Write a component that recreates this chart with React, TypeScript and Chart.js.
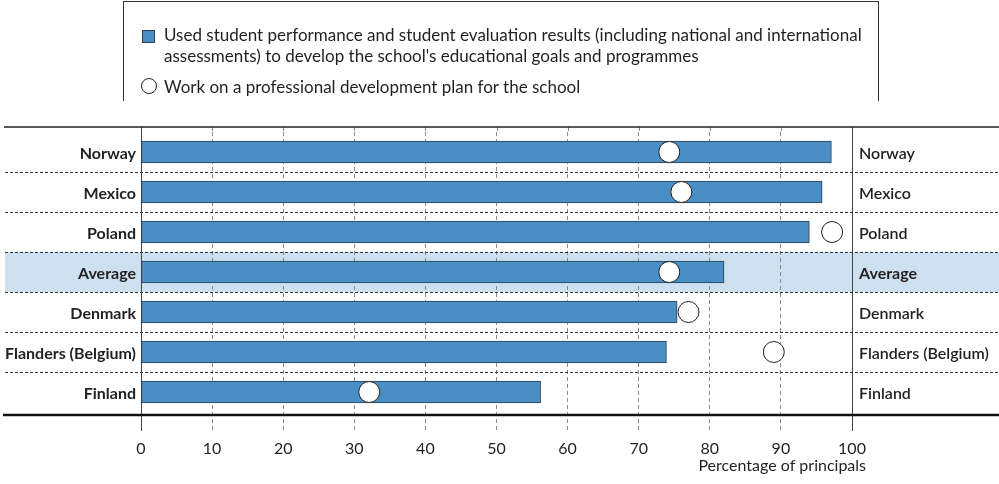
import React, { useEffect, useRef } from 'react';
import { Chart, registerables } from 'chart.js';

Chart.register(...registerables);

const categories = ['Norway', 'Mexico', 'Poland', 'Average', 'Denmark', 'Flanders (Belgium)', 'Finland'];
const usedResults = [97.1, 95.8, 94.0, 82.0, 75.4, 73.9, 56.2];
const devPlan = [74.3, 76.0, 97.2, 74.3, 77.0, 89.0, 32.1];
const highlight = 'Average';
const xMin = 0;
const xMax = 100;
const xStep = 10;
const legendBarLines = [
  'Used student performance and student evaluation results (including national and international',
  "assessments) to develop the school's educational goals and programmes",
];
const legendCircle = 'Work on a professional development plan for the school';
const axisTitle = 'Percentage of principals';

const BAR_FILL = '#4a8fc4';
const BAR_BORDER = '#2c3e50';
const BAND = '#cde0ef';
const TEXT = '#231f20';
const FONT = "Lato, 'Open Sans', sans-serif";

const decor = {
  id: 'decor',
  beforeDraw(chart: any) {
    const { ctx, scales } = chart;
    const y = scales.y;
    const step = y.getPixelForValue(1) - y.getPixelForValue(0);
    const idx = categories.indexOf(highlight);
    const yc = y.getPixelForValue(idx);
    ctx.save();
    ctx.fillStyle = BAND;
    ctx.fillRect(5, yc - step / 2, chart.width - 5, step);
    ctx.restore();
  },
  beforeDatasetsDraw(chart: any) {
    const { ctx, scales, chartArea } = chart;
    const y = scales.y;
    const x = scales.x;
    const step = y.getPixelForValue(1) - y.getPixelForValue(0);
    ctx.save();
    ctx.strokeStyle = '#333';
    ctx.lineWidth = 1;
    ctx.setLineDash([3, 2]);
    for (let i = 1; i < categories.length; i++) {
      const yy = Math.round(y.getPixelForValue(i) - step / 2) + 0.5;
      ctx.beginPath();
      ctx.moveTo(5, yy);
      ctx.lineTo(chart.width, yy);
      ctx.stroke();
    }
    const topRule = chartArea.top - 5;
    for (let v = xMin; v <= xMax; v += xStep) {
      const px = Math.round(x.getPixelForValue(v)) + 0.5;
      const solid = v === xMin || v === xMax;
      ctx.strokeStyle = solid ? '#444' : '#8a8a8a';
      ctx.setLineDash(solid ? [] : [4, 3]);
      ctx.beginPath();
      ctx.moveTo(px, topRule);
      ctx.lineTo(px, chartArea.top);
      ctx.stroke();
    }
    ctx.restore();
  },
  afterDraw(chart: any) {
    const { ctx, chartArea, scales } = chart;
    ctx.save();
    ctx.setLineDash([]);
    ctx.strokeStyle = '#222';
    ctx.lineWidth = 1.5;
    ctx.beginPath();
    ctx.moveTo(4, chartArea.top - 5);
    ctx.lineTo(chart.width, chartArea.top - 5);
    ctx.stroke();
    ctx.strokeStyle = '#111';
    ctx.lineWidth = 2.5;
    ctx.beginPath();
    ctx.moveTo(3, chartArea.bottom + 3);
    ctx.lineTo(chart.width, chartArea.bottom + 3);
    ctx.stroke();
    ctx.fillStyle = TEXT;
    ctx.font = `16px ${FONT}`;
    ctx.textAlign = 'right';
    ctx.textBaseline = 'alphabetic';
    ctx.fillText(axisTitle, scales.x.getPixelForValue(xMax) + 14, chartArea.bottom + 59);
    ctx.restore();
  },
};

export default function App() {
  const ref = useRef<HTMLCanvasElement>(null);
  useEffect(() => {
    document.body.style.margin = '0';
    const isEdge = (v: number) => v === xMin || v === xMax;
    const chart = new Chart(ref.current!, {
      type: 'bar',
      data: {
        labels: categories,
        datasets: [
          {
            type: 'line',
            label: legendCircle,
            data: devPlan,
            indexAxis: 'y',
            showLine: false,
            pointRadius: 10.5,
            pointHoverRadius: 10.5,
            pointBackgroundColor: '#ffffff',
            pointBorderColor: '#222',
            pointBorderWidth: 1,
            order: 1,
            yAxisID: 'y',
          } as any,
          {
            type: 'bar',
            label: legendBarLines.join(' '),
            data: usedResults,
            backgroundColor: BAR_FILL,
            borderColor: BAR_BORDER,
            borderWidth: 1,
            borderSkipped: false,
            barThickness: 22,
            order: 2,
            yAxisID: 'y',
          },
        ],
      },
      options: {
        indexAxis: 'y',
        responsive: false,
        animation: false,
        layout: { padding: { top: 132, left: 0, right: 0, bottom: 0 } },
        plugins: { legend: { display: false }, tooltip: { enabled: false } },
        scales: {
          x: {
            type: 'linear',
            position: 'bottom',
            min: xMin,
            max: xMax,
            afterFit: (s: any) => { s.height = 72; },
            ticks: {
              stepSize: xStep,
              color: TEXT,
              padding: 8,
              font: { family: FONT, size: 16 },
            },
            grid: {
              color: (c: any) => (isEdge(c.tick?.value) ? '#444' : '#8a8a8a'),
              tickColor: (c: any) => (isEdge(c.tick?.value) ? '#444' : '#8a8a8a'),
              tickBorderDash: (c: any) => (isEdge(c.tick?.value) ? [] : [4, 3]),
              tickLength: 19,
              lineWidth: 1,
            },
            border: {
              display: false,
              dash: (c: any) => (isEdge(c.tick?.value) ? [] : [4, 3]),
            },
          },
          y: {
            type: 'category',
            position: 'left',
            offset: true,
            afterFit: (s: any) => { s.width = 141; },
            grid: { display: false, drawTicks: false },
            border: { display: false },
            ticks: {
              color: TEXT,
              padding: 5,
              labelOffset: 2,
              font: { family: FONT, size: 16, weight: 'bold' },
            },
          },
          y2: {
            type: 'category',
            position: 'right',
            labels: categories,
            offset: true,
            afterFit: (s: any) => { s.width = 147; },
            grid: { display: false, drawTicks: false },
            border: { display: false },
            ticks: {
              color: TEXT,
              padding: 7,
              labelOffset: 2,
              font: (c: any) => ({
                family: FONT,
                size: 16,
                weight: categories[c.index] === highlight ? 'bold' : '600',
              }),
            },
          },
        },
      },
      plugins: [decor],
    });
    return () => chart.destroy();
  }, []);

  return (
    <div style={{ position: 'absolute', left: 0, top: 0, width: 999, height: 484, background: '#fff' }}>
      <canvas ref={ref} width={999} height={484} style={{ display: 'block', position: 'absolute', left: 0, top: 0 }} />
      <div
        style={{
          position: 'absolute',
          left: 123,
          top: 1,
          width: 756,
          height: 100,
          boxSizing: 'border-box',
          borderTop: '1px solid #333',
          borderLeft: '1px solid #333',
          borderRight: '1px solid #333',
          fontFamily: FONT,
          fontSize: 17,
          color: TEXT,
          lineHeight: '21px',
        }}
      >
        <div style={{ position: 'absolute', left: 18, top: 28, width: 11, height: 11, background: BAR_FILL, border: `1px solid ${BAR_BORDER}` }} />
        <div style={{ position: 'absolute', left: 40, top: 22, whiteSpace: 'nowrap' }}>
          {legendBarLines.map((l, i) => (
            <div key={i}>{l}</div>
          ))}
        </div>
        <div style={{ position: 'absolute', left: 17, top: 76, width: 14, height: 14, borderRadius: '50%', background: '#fff', border: '1px solid #222' }} />
        <div style={{ position: 'absolute', left: 40, top: 74, whiteSpace: 'nowrap' }}>{legendCircle}</div>
      </div>
    </div>
  );
}
